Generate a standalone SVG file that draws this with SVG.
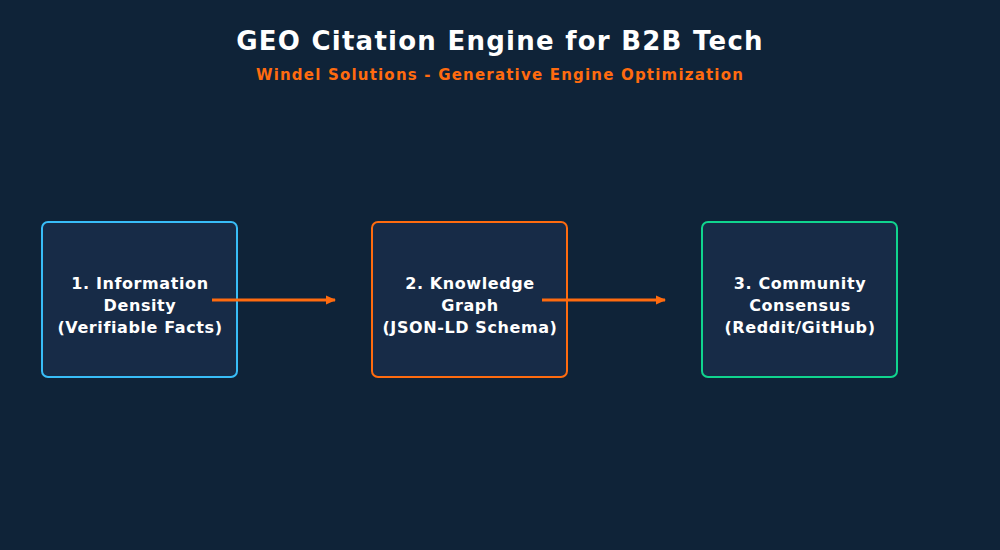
<svg xmlns="http://www.w3.org/2000/svg" width="1000" height="550" viewBox="0 0 1000 550">
<style>
.box{fill:#172b47;stroke-width:2}
.lbl{font-family:"DejaVu Sans",sans-serif;font-weight:bold;font-size:16px;fill:#ffffff;text-anchor:middle;letter-spacing:0.6px}
.edge{stroke:#ff6b0f;stroke-width:3;fill:none}
</style>
<defs><marker id="ah" markerWidth="12" markerHeight="12" refX="9" refY="6" orient="auto" markerUnits="userSpaceOnUse"><path d="M0,1.5 L10,6 L0,10.5 Z" fill="#ff6b0f"/></marker></defs>
<rect width="1000" height="550" fill="#0f2338"/>
<text x="500" y="50" font-family="DejaVu Sans,sans-serif" font-weight="bold" font-size="26" fill="#fff" text-anchor="middle" letter-spacing="1.25">GEO Citation Engine for B2B Tech</text>
<text x="500" y="80" font-family="DejaVu Sans,sans-serif" font-weight="bold" font-size="15" fill="#ff6b0f" text-anchor="middle" letter-spacing="1.2">Windel Solutions - Generative Engine Optimization</text>
<g id="n1"><rect class="box" x="42" y="222" width="195" height="155" rx="6" stroke="#38bdf8"/><text class="lbl" x="140" y="289">1. Information</text><text class="lbl" x="140" y="311">Density</text><text class="lbl" x="140" y="333">(Verifiable Facts)</text></g>
<g id="n2"><rect class="box" x="372" y="222" width="195" height="155" rx="6" stroke="#ff6b0f"/><text class="lbl" x="470" y="289">2. Knowledge</text><text class="lbl" x="470" y="311">Graph</text><text class="lbl" x="470" y="333">(JSON-LD Schema)</text></g>
<g id="n3"><rect class="box" x="702" y="222" width="195" height="155" rx="6" stroke="#10d48e"/><text class="lbl" x="800" y="289">3. Community</text><text class="lbl" x="800" y="311">Consensus</text><text class="lbl" x="800" y="333">(Reddit/GitHub)</text></g>
<g id="edges"><line class="edge" x1="212" y1="300" x2="335" y2="300" marker-end="url(#ah)"/><line class="edge" x1="542" y1="300" x2="665" y2="300" marker-end="url(#ah)"/></g>
</svg>
